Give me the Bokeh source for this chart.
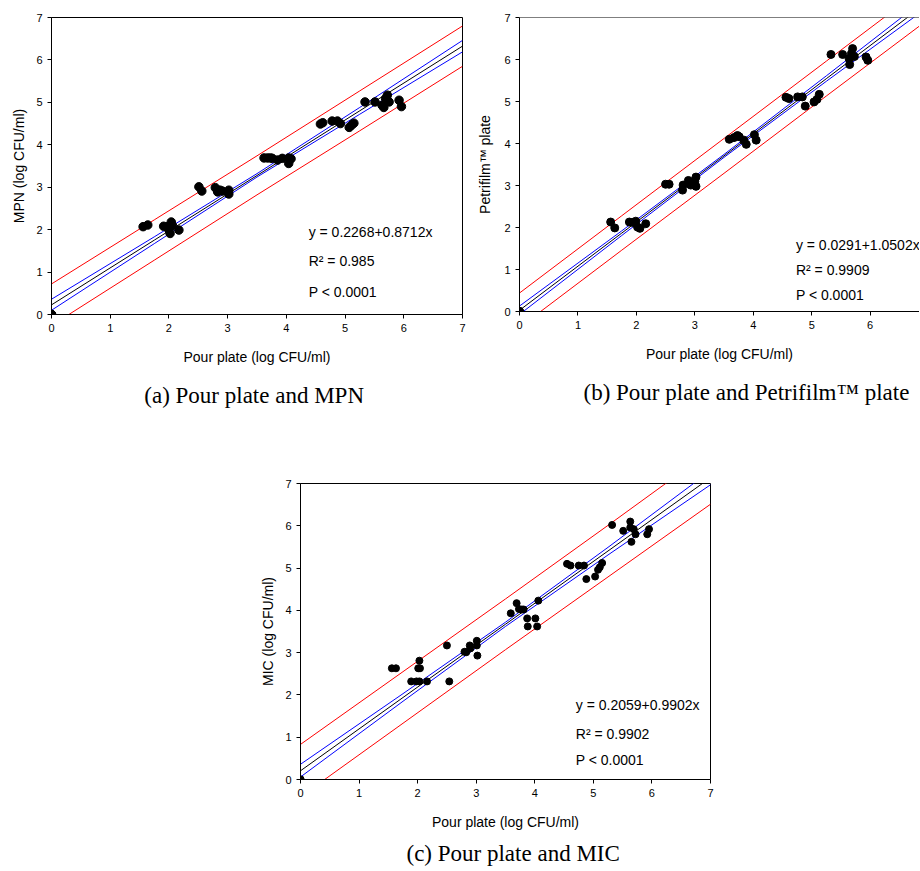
from bokeh.plotting import figure
from bokeh.layouts import column, row
from bokeh.models import FixedTicker, Title, Spacer, Range1d, Span
from bokeh.core.properties import value
from bokeh.embed import file_html
from bokeh.resources import INLINE

# ---------------- data ----------------
ticks = [0, 1, 2, 3, 4, 5, 6, 7]
band_x = [0, 1.75, 3.5, 5.25, 7]

# (a) Pour plate vs MPN
a_x = [0, 0, 0, 1.56, 1.64, 1.91, 1.97, 2.00, 2.02, 2.04, 2.06, 2.17, 2.51, 2.56,
       2.79, 2.83, 2.87, 2.91, 3.02, 3.02, 3.62, 3.68, 3.73, 3.76, 3.85, 3.93, 4.04,
       4.04, 4.08, 4.58, 4.62, 4.78, 4.87, 4.92, 5.07, 5.11, 5.15, 5.34, 5.51, 5.63,
       5.66, 5.69, 5.72, 5.75, 5.92, 5.96]
a_y = [0, 0, 0, 2.07, 2.11, 2.08, 2.07, 1.99, 1.91, 2.18, 2.10, 1.99, 3.01, 2.91,
       2.99, 2.89, 2.93, 2.91, 2.93, 2.84, 3.69, 3.69, 3.69, 3.68, 3.64, 3.68, 3.69,
       3.56, 3.67, 4.49, 4.52, 4.56, 4.56, 4.50, 4.41, 4.46, 4.51, 5.01, 5.01, 4.93,
       4.88, 5.09, 5.17, 5.01, 5.05, 4.90]
a_fit = [0.227, 1.752, 3.276, 4.801, 6.325]
a_ci_hi = [0.36, 1.83, 3.32, 4.88, 6.46]
a_ci_lo = [0.10, 1.67, 3.24, 4.72, 6.19]
a_pi_hi = [0.72, 2.23, 3.74, 5.27, 6.80]
a_pi_lo = [-0.26, 1.28, 2.82, 4.33, 5.85]
a_text = ["y  = 0.2268+0.8712x", "R\u00b2 = 0.985", "P < 0.0001"]

# (b) Pour plate vs Petrifilm plate
b_x = [0, 0, 0, 1.56, 1.63, 1.88, 1.94, 1.99, 2.02, 2.06, 2.16, 2.50, 2.56,
       2.79, 2.80, 2.89, 2.93, 3.00, 3.02, 3.02, 3.59, 3.67, 3.73, 3.76, 3.84, 3.88,
       4.02, 4.05, 4.56, 4.61, 4.76, 4.84, 4.89, 5.04, 5.09, 5.13, 5.33, 5.53,
       5.64, 5.65, 5.68, 5.70, 5.73, 5.93, 5.96]
b_y = [0, 0, 0, 2.13, 1.99, 2.13, 2.12, 2.15, 2.01, 1.98, 2.09, 3.03, 3.03,
       2.89, 3.01, 3.12, 3.01, 3.10, 3.20, 2.98, 4.10, 4.14, 4.19, 4.16, 4.08, 3.98,
       4.21, 4.08, 5.10, 5.07, 5.11, 5.11, 4.89, 4.99, 5.05, 5.17, 6.12, 6.12,
       6.02, 5.88, 6.14, 6.26, 6.07, 6.06, 5.98]
b_fit = [0.029, 1.867, 3.705, 5.543, 7.381]
b_ci_hi = [0.13, 1.92, 3.74, 5.61, 7.50]
b_ci_lo = [-0.07, 1.81, 3.67, 5.48, 7.26]
b_pi_hi = [0.44, 2.28, 4.12, 5.96, 7.80]
b_pi_lo = [-0.38, 1.46, 3.29, 5.13, 6.96]
b_text = ["y = 0.0291+1.0502x", "R\u00b2 = 0.9909", "P <  0.0001"]

# (c) Pour plate vs MIC
c_x = [0, 0, 0, 1.56, 1.63, 1.89, 1.98, 2.03, 2.01, 2.04, 2.03, 2.16, 2.50, 2.54,
       2.80, 2.83, 2.89, 2.90, 3.01, 3.01, 3.02, 3.59, 3.69, 3.73, 3.78, 3.81, 3.87,
       3.88, 4.01, 4.04, 4.06, 4.55, 4.61, 4.75, 4.84, 4.88, 5.03, 5.08, 5.11, 5.15,
       5.32, 5.51, 5.63, 5.63, 5.65, 5.69, 5.72, 5.92, 5.95]
c_y = [0, 0, 0, 2.63, 2.63, 2.32, 2.32, 2.32, 2.63, 2.63, 2.81, 2.32, 3.17, 2.32,
       3.02, 3.01, 3.17, 3.10, 3.28, 3.17, 2.93, 3.93, 4.17, 4.03, 4.02, 4.02, 3.81,
       3.62, 3.81, 3.62, 4.23, 5.10, 5.06, 5.06, 5.06, 4.74, 4.80, 4.96, 5.02, 5.12,
       6.02, 5.88, 6.10, 5.96, 5.62, 5.92, 5.80, 5.80, 5.92]
c_fit = [0.206, 1.939, 3.672, 5.404, 7.137]
c_ci_hi = [0.36, 2.03, 3.72, 5.49, 7.30]
c_ci_lo = [0.06, 1.85, 3.62, 5.31, 6.97]
c_pi_hi = [0.83, 2.55, 4.27, 6.01, 7.77]
c_pi_lo = [-0.41, 1.33, 3.07, 4.79, 6.51]
c_text = ["y = 0.2059+0.9902x", "R\u00b2 = 0.9902", "P < 0.0001"]

x_label = "Pour plate (log CFU/ml)"

SANS = "Liberation Sans"
SERIF = "Liberation Serif"


def make_panel(xs, ys, fit, ci_hi, ci_lo, pi_hi, pi_lo, texts, text_x, text_y,
               ylabel, caption, x_end, fw, fh, bl, br, bt, bb, dot, ylab_standoff,
               cap_standoff, cap_align="center", cap_offset=0, full_box=True):
    p = figure(frame_width=fw, frame_height=fh,
               x_range=Range1d(0, x_end), y_range=Range1d(0, 7),
               output_backend="svg", toolbar_location=None,
               min_border_left=bl, min_border_right=br,
               min_border_top=bt, min_border_bottom=bb,
               background_fill_color="white", border_fill_color="white")
    p.grid.visible = False
    if full_box:
        p.outline_line_color = "black"
        p.outline_line_width = 1
        p.outline_line_alpha = 1
    else:
        p.outline_line_color = None
        p.add_layout(Span(location=7, dimension="width", line_color="black",
                          line_width=1))
    for ax in [p.xaxis[0], p.yaxis[0]]:
        ax.ticker = FixedTicker(ticks=ticks)
        ax.minor_tick_line_color = None
        ax.major_tick_in = 0
        ax.major_tick_out = 4
        ax.major_tick_line_color = "black"
        ax.axis_line_color = "black"
        ax.major_label_text_font = SANS
        ax.major_label_text_font_size = "11px"
        ax.major_label_text_color = "black"
        ax.major_label_standoff = 5
        ax.axis_label_text_font = SANS
        ax.axis_label_text_font_size = "14px"
        ax.axis_label_text_font_style = "normal"
        ax.axis_label_text_color = "black"
    p.xaxis.axis_label = x_label
    p.xaxis.axis_label_standoff = 14
    p.yaxis.axis_label = ylabel
    p.yaxis.axis_label_standoff = ylab_standoff

    p.line(band_x, pi_hi, line_color="#ff0000", line_width=1)
    p.line(band_x, pi_lo, line_color="#ff0000", line_width=1)
    p.line(band_x, ci_hi, line_color="#0000ff", line_width=1)
    p.line(band_x, ci_lo, line_color="#0000ff", line_width=1)
    p.line(band_x, fit, line_color="black", line_width=1)
    p.scatter(xs, ys, size=dot, fill_color="black", line_color="black")

    p.text(x=[text_x] * 3, y=text_y, text=texts, text_font=value(SANS),
           text_font_size=value("14px"), text_color="black",
           text_align="left", text_baseline="middle")

    p.add_layout(Title(text=caption, align=cap_align, offset=cap_offset,
                       standoff=cap_standoff, text_font=SERIF,
                       text_font_size="23px", text_font_style="normal",
                       text_color="black"), "below")
    return p


pa = make_panel(a_x, a_y, a_fit, a_ci_hi, a_ci_lo, a_pi_hi, a_pi_lo, a_text,
                4.38, [1.94, 1.27, 0.52], "MPN (log CFU/ml)",
                "(a)  Pour plate and MPN", 7, 411, 297, 51, 8, 16, 158, 8.5, 6, 27)

pb = make_panel(b_x, b_y, b_fit, b_ci_hi, b_ci_lo, b_pi_hi, b_pi_lo, b_text,
                4.73, [1.573, 0.977, 0.381], "Petrifilm\u2122 plate",
                "(b) Pour plate and Petrifilm\u2122 plate", 6.845, 400, 294, 49, 0, 17,
                160, 8, 8, 27, cap_align="left", cap_offset=64, full_box=False)

pc = make_panel(c_x, c_y, c_fit, c_ci_hi, c_ci_lo, c_pi_hi, c_pi_lo, c_text,
                4.70, [1.77, 1.08, 0.47], "MIC (log CFU/ml)",
                "(c) Pour plate and MIC", 7, 410, 296, 51, 8, 12, 91, 7, 6, 12,
                cap_align="left", cap_offset=106)

layout = column(row(pa, pb), row(Spacer(width=249, height=399), pc))

open("out.html", "w").write(file_html(layout, INLINE))
